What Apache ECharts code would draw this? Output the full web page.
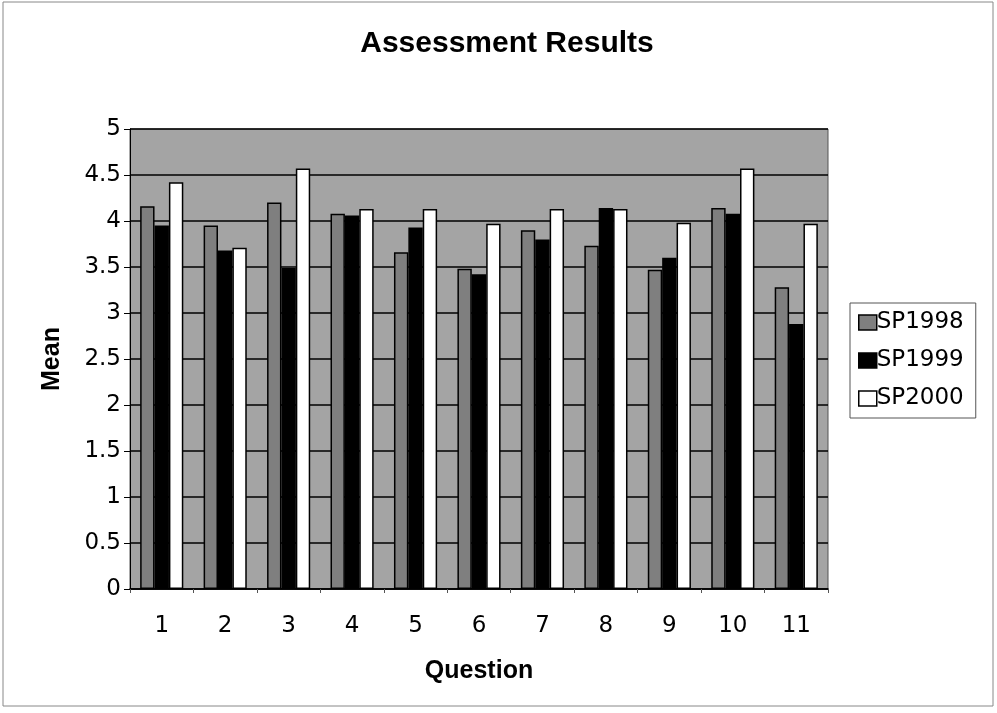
<!DOCTYPE html>
<html>
<head>
<meta charset="utf-8">
<script src="https://cdn.jsdelivr.net/npm/echarts@6/dist/echarts.min.js"></script>
<style>
  html, body { margin: 0; padding: 0; background: #fff; }
  #chart { width: 997px; height: 713px; }
</style>
</head>
<body>
<div id="chart"></div>
<script>
// question numbers on the x axis
const questions = ['1', '2', '3', '4', '5', '6', '7', '8', '9', '10', '11']
// mean score per question
const sp1998 = [4.16, 3.95, 4.2, 4.08, 3.66, 3.48, 3.9, 3.73, 3.47, 4.14, 3.28]
const sp1999 = [3.95, 3.68, 3.49, 4.06, 3.93, 3.42, 3.8, 4.14, 3.6, 4.08, 2.88]
const sp2000 = [4.42, 3.71, 4.57, 4.13, 4.13, 3.97, 4.13, 4.13, 3.98, 4.57, 3.97]

const chart = echarts.init(document.getElementById('chart'))

const font = 'DejaVu Sans, Arial, sans-serif'
const boldFont = 'Liberation Sans, Arial, sans-serif'

function barSeries(name, data, color) {
  return {
    name: name,
    type: 'bar',
    data: data,
    barGap: '0%',
    barCategoryGap: '32%',
    itemStyle: { color: color, borderColor: '#000', borderWidth: 1.5 },
    animation: false
  }
}

chart.setOption({
  backgroundColor: '#fff',
  title: {
    text: 'Assessment Results',
    left: 502,
    top: 24,
    textAlign: 'center',
    textStyle: { fontFamily: boldFont, fontSize: 30, fontWeight: 'bold', color: '#000' }
  },
  legend: {
    orient: 'vertical',
    left: 850,
    top: 303,
    itemWidth: 18,
    itemHeight: 15,
    itemGap: 15,
    padding: [8, 12, 8, 8],
    borderColor: '#555',
    borderWidth: 1,
    icon: 'rect',
    textStyle: { fontFamily: font, fontSize: 23, color: '#000', padding: [0, 0, 0, -5] },
    itemStyle: { borderColor: '#000', borderWidth: 1.5 },
    data: ['SP1998', 'SP1999', 'SP2000']
  },
  grid: {
    left: 130,
    right: 169,
    top: 129,
    bottom: 124,
    show: true,
    backgroundColor: '#a4a4a4',
    borderColor: '#555',
    borderWidth: 1
  },
  xAxis: {
    type: 'category',
    data: questions,
    name: 'Question',
    nameLocation: 'middle',
    nameGap: 70,
    nameTextStyle: { fontFamily: boldFont, fontSize: 25, fontWeight: 'bold', color: '#000' },
    axisLine: { lineStyle: { color: '#000', width: 1.5 } },
    axisTick: { show: true, length: 4, lineStyle: { color: '#555' } },
    axisLabel: { fontFamily: font, fontSize: 23, color: '#000', margin: 26 }
  },
  yAxis: {
    type: 'value',
    min: 0,
    max: 5,
    interval: 0.5,
    name: 'Mean',
    nameLocation: 'middle',
    nameGap: 65,
    nameTextStyle: { fontFamily: boldFont, fontSize: 25, fontWeight: 'bold', color: '#000' },
    axisLine: { show: true, lineStyle: { color: '#000', width: 1 } },
    axisTick: { show: true, length: 6, lineStyle: { color: '#000' } },
    axisLabel: { fontFamily: font, fontSize: 23, color: '#000', margin: 9 },
    splitLine: { show: true, lineStyle: { color: '#000', width: 1.5 } }
  },
  series: [
    barSeries('SP1998', sp1998, '#7f7f7f'),
    barSeries('SP1999', sp1999, '#000000'),
    barSeries('SP2000', sp2000, '#ffffff')
  ],
  graphic: [{
    type: 'rect',
    shape: { x: 3, y: 2, width: 990, height: 704 },
    style: { fill: 'none', stroke: '#888', lineWidth: 1 },
    silent: true
  }]
})
</script>
</body>
</html>
